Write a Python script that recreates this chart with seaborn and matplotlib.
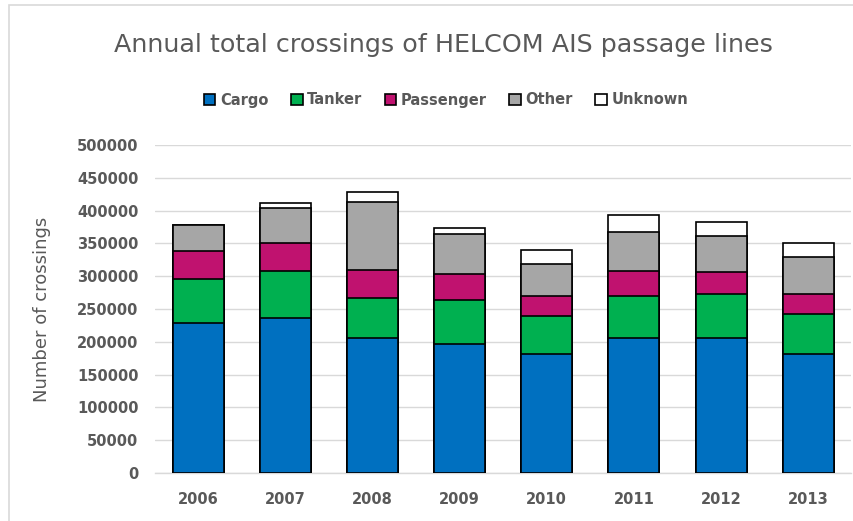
import matplotlib
matplotlib.use("Agg")
import matplotlib.pyplot as plt
import seaborn as sns
import pandas as pd
import numpy as np
from matplotlib.patches import Patch, Rectangle

years = ["2006", "2007", "2008", "2009", "2010", "2011", "2012", "2013"]
cargo = [228000, 237000, 206000, 197000, 181000, 206000, 206000, 181000]
tanker = [67000, 70500, 61500, 67000, 58000, 63500, 66500, 62000]
passenger = [43000, 43000, 42500, 40000, 30500, 38000, 34500, 30500]
other = [40000, 54000, 103500, 61000, 49500, 60000, 54000, 56500]
unknown = [0, 6500, 15500, 8500, 21500, 25500, 22000, 20000]

series = ["Cargo", "Tanker", "Passenger", "Other", "Unknown"]
colors = ["#0070C0", "#00B050", "#C0126F", "#A6A6A6", "#FFFFFF"]
values = [cargo, tanker, passenger, other, unknown]

sns.set_theme(style="white")
plt.rcParams['font.family'] = ['DejaVu Sans']

fig = plt.figure(figsize=(8.54, 5.21), dpi=100)
ax = fig.add_axes([155/854, 1-473/521, 696/854, (473-145)/521])

cum = np.cumsum(np.array(values), axis=0)
# draw from top layer down so lower layers overlay
for i in range(len(series)-1, -1, -1):
    df = pd.DataFrame({"year": years, "val": cum[i]})
    sns.barplot(data=df, x="year", y="val", color=colors[i], saturation=1,
                edgecolor="black", linewidth=1.2, width=0.585, ax=ax, zorder=3)

ax.set_ylim(0, 500000)
ax.set_xlim(-0.494, 7.49)
ax.set_yticks(np.arange(0, 500001, 50000))
ax.set_yticklabels([str(v) for v in range(0, 500001, 50000)])
ax.yaxis.grid(True, color="#D9D9D9", linewidth=1.0, zorder=0)
ax.set_axisbelow(True)
for s in ["top", "right", "left"]:
    ax.spines[s].set_visible(False)
ax.spines["bottom"].set_color("#D9D9D9")
ax.spines["bottom"].set_linewidth(1.0)
ax.tick_params(axis="both", length=0, colors="#595959", labelsize=10.5)
ax.tick_params(axis="y", pad=12)
ax.tick_params(axis="x", pad=14)
for lab in ax.get_xticklabels() + ax.get_yticklabels():
    lab.set_fontweight("bold")
    lab.set_color("#595959")
ax.set_xlabel("")
ax.set_ylabel("Number of crossings", fontsize=13, color="#595959", labelpad=8)
ax.yaxis.set_label_coords(-104/696, 0.5)

fig.text(443/854, 1-45/521, "Annual total crossings of HELCOM AIS passage lines",
         ha="center", va="center", fontsize=18.3, color="#595959")

handles = [Patch(facecolor=c, edgecolor="black", linewidth=1.2) for c in colors]
leg = fig.legend(handles, series, loc="center", bbox_to_anchor=(446/854, 1-100/521),
                 ncol=5, frameon=False, handlelength=0.8, handleheight=0.8,
                 handletextpad=0.3, columnspacing=1.55,
                 prop={"size": 10.5, "weight": "bold"})
for t in leg.get_texts():
    t.set_color("#595959")

fig.patches.append(Rectangle((9/854, -0.1), 1.2, 1 - 5/521 + 0.1, transform=fig.transFigure,
                             fill=False, edgecolor="#D9D9D9", linewidth=1.2))

fig.savefig("out.png", dpi=100)
